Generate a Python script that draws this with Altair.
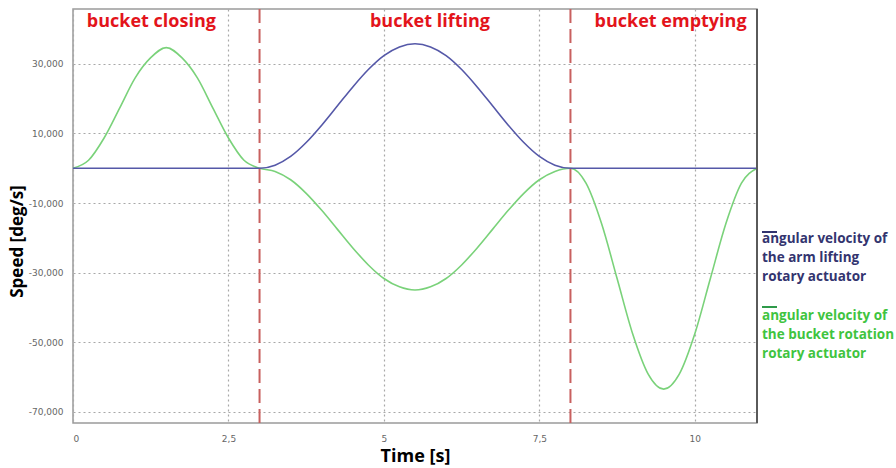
import altair as alt
import pandas as pd

# ---- data ----
time_s = [0, 0.25, 0.5, 0.75, 1.0, 1.25, 1.5, 1.75, 2.0, 2.25, 2.5, 2.75,
          3.0, 3.25, 3.5, 3.75, 4.0, 4.25, 4.5, 4.75, 5.0, 5.25, 5.5, 5.75,
          6.0, 6.25, 6.5, 6.75, 7.0, 7.25, 7.5, 7.75, 8.0, 8.25, 8.5, 8.75,
          9.0, 9.25, 9.5, 9.75, 10.0, 10.25, 10.5, 10.75, 11.0]

arm_lifting = [0, 0, 0, 0, 0, 0, 0, 0, 0, 0, 0, 0,
               0, 900, 3400, 7400, 12400, 17900, 23400, 28400, 32400, 34900, 35800, 34900,
               32400, 28400, 23400, 17900, 12400, 7400, 3400, 900, 0, 0, 0, 0,
               0, 0, 0, 0, 0, 0, 0, 0, 0]

bucket_rotation = [0, 2300, 8700, 17300, 26000, 31800, 34700, 31800, 26000, 17300, 8700, 2300,
                   0, -900, -3300, -7200, -12100, -17500, -22900, -27800, -31700, -34100, -35000, -34100,
                   -31700, -27800, -22900, -17500, -12100, -7200, -3300, -900, 0, -4300, -15900, -31700,
                   -47600, -59200, -63500, -59200, -47600, -31700, -15900, -4300, 0]

series_names = ["arm", "bucket"]
legend_labels = ["angular velocity of\nthe arm lifting\nrotary actuator",
                 "angular velocity of\nthe bucket rotation\nrotary actuator"]

phase_bounds = [3, 8]
phase_labels = ["bucket closing", "bucket lifting", "bucket emptying"]
phase_label_x = [1.26, 5.74, 9.61]

x_ticks = [0, 2.5, 5, 7.5, 10]
y_ticks = [30000, 10000, -10000, -30000, -50000, -70000]
x_domain = [0, 11]
y_domain = [-73250, 45800]

# ---- styling ----
BLUE = "#5558a8"
GREEN = "#7ad27a"
NAVY_TXT = "#33346f"
GREEN_TXT = "#3fc43f"
RED = "#e3141b"
DASH_RED = "#c8605f"
W, H = 684, 414

df = pd.DataFrame({
    "time": time_s + time_s,
    "speed": arm_lifting + bucket_rotation,
    "series": [series_names[0]] * len(time_s) + [series_names[1]] * len(time_s),
})

x_enc = alt.X(
    "time:Q",
    scale=alt.Scale(domain=x_domain, nice=False, zero=False),
    axis=alt.Axis(
        values=x_ticks,
        labelExpr="replace(toString(datum.value), '.', ',')",
        title="Time [s]",
        grid=True, gridDash=[2, 3], gridColor="#a8a8a8", gridWidth=1.2,
        ticks=False, tickSize=0, domain=False,
        labelFont="DejaVu Sans", labelFontSize=9, labelColor="#666666",
        labelPadding=11,
        titleFont="Open Sans", titleFontWeight="bold", titleFontSize=18,
        titleColor="#000000", titleY=33, titleBaseline="middle",
    ),
)

y_enc = alt.Y(
    "speed:Q",
    scale=alt.Scale(domain=y_domain, nice=False, zero=False),
    axis=alt.Axis(
        values=y_ticks,
        labelExpr="(datum.value < 0 ? '-' : '') + format(abs(datum.value), ',')",
        title="Speed [deg/s]",
        grid=True, gridDash=[2, 3], gridColor="#a8a8a8", gridWidth=1.2,
        ticks=False, tickSize=0, domain=False,
        labelFont="DejaVu Sans", labelFontSize=9, labelColor="#666666",
        labelPadding=10,
        titleFont="Open Sans", titleFontWeight="bold", titleFontSize=17,
        titleColor="#000000", titleX=-56, titleY=232, titleAngle=270,
        titleBaseline="middle", titleAlign="center",
    ),
)

base = alt.Chart(df)

green_line = base.transform_filter(alt.datum.series == series_names[1]).mark_line(
    interpolate="monotone", strokeWidth=1.6, color=GREEN
).encode(x=x_enc, y=y_enc)

blue_line = base.transform_filter(alt.datum.series == series_names[0]).mark_line(
    interpolate="monotone", strokeWidth=1.6, color=BLUE
).encode(x="time:Q", y="speed:Q")

bounds = alt.Chart(pd.DataFrame({"t": phase_bounds})).mark_rule(
    color=DASH_RED, strokeDash=[14, 6], strokeWidth=2
).encode(x="t:Q")

right_border = alt.Chart(pd.DataFrame({"t": [x_domain[1]]})).mark_rule(
    color="#5a5a5a", strokeWidth=2
).encode(x="t:Q")

phase_text = alt.Chart(pd.DataFrame({"t": phase_label_x, "label": phase_labels})).mark_text(
    font="Open Sans", fontWeight="bold", fontSize=18, color=RED, baseline="middle", align="center"
).encode(x="t:Q", y=alt.value(13), text="label:N")

legend_arm_sym = alt.Chart(pd.DataFrame({"l": [legend_labels[0]]})).mark_rule(
    color=NAVY_TXT, strokeWidth=2
).encode(x=alt.value(689), x2=alt.value(704), y=alt.value(223))

legend_bucket_sym = alt.Chart(pd.DataFrame({"l": [legend_labels[1]]})).mark_rule(
    color="#2f9a4a", strokeWidth=2
).encode(x=alt.value(689), x2=alt.value(704), y=alt.value(298))

legend_arm_txt = alt.Chart(pd.DataFrame({"l": [legend_labels[0]]})).mark_text(
    font="Open Sans", fontWeight="bold", fontSize=13.5, color=NAVY_TXT,
    align="left", baseline="middle", lineBreak="\n", lineHeight=19
).encode(x=alt.value(689), y=alt.value(230), text="l:N")

legend_bucket_txt = alt.Chart(pd.DataFrame({"l": [legend_labels[1]]})).mark_text(
    font="Open Sans", fontWeight="bold", fontSize=13.5, color=GREEN_TXT,
    align="left", baseline="middle", lineBreak="\n", lineHeight=19
).encode(x=alt.value(689), y=alt.value(307), text="l:N")

chart = alt.layer(
    green_line, blue_line, bounds, right_border, phase_text,
    legend_arm_sym, legend_bucket_sym, legend_arm_txt, legend_bucket_txt
).properties(
    width=W, height=H,
    autosize=alt.AutoSizeParams(type="none"),
    padding={"left": 73, "top": 9, "right": 139, "bottom": 45},
    background="white",
).configure_view(
    stroke="#9a9a9a", strokeWidth=1.5
)

chart.save("out.html", embed_options={"renderer": "svg", "actions": False})
